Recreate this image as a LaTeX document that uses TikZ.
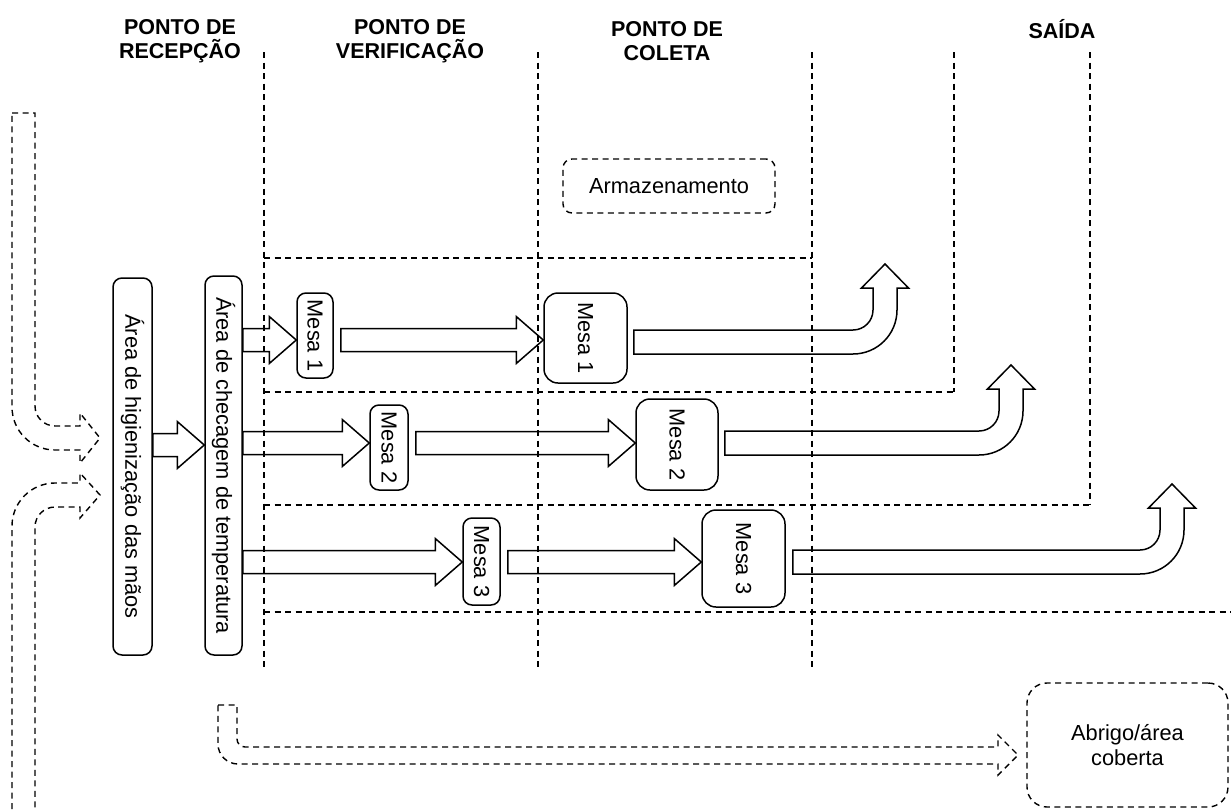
\documentclass[tikz,border=0pt]{standalone}
\usepackage{fontspec}
\setmainfont{Liberation Sans}
\usepackage{graphicx}
\usetikzlibrary{calc}
\newcommand{\setabloco}[2]{%
  \draw[bloco] let \p1=#1, \p2=#2 in
    (\x1,\y1+11.5pt) -- (\x2-27pt,\y1+11.5pt) -- (\x2-27pt,\y1+23.5pt) -- (\x2,\y1)
    -- (\x2-27pt,\y1-23.5pt) -- (\x2-27pt,\y1-11.5pt) -- (\x1,\y1-11.5pt) -- cycle;}
\newcommand{\setasaida}[2]{%
  \draw[bloco] let \p1=#1, \p2=#2 in
    (\x1,\y1+12pt) -- (\x2-32pt,\y1+12pt) arc[start angle=270,end angle=360,radius=20pt]
    -- (\x2-12pt,\y2-24pt) -- (\x2-23.5pt,\y2-24pt) -- (\x2,\y2) -- (\x2+23.5pt,\y2-24pt)
    -- (\x2+12pt,\y2-24pt) -- (\x2+12pt,\y1+32pt) arc[start angle=0,end angle=-90,radius=44pt]
    -- (\x1,\y1-12pt) -- cycle;}

\begin{document}
\begin{tikzpicture}[x=1pt,y=-1pt,line width=1.5pt,
  every node/.style={font=\fontsize{21.8}{24.5}\selectfont,align=center,inner sep=0pt},
  cabec/.style={font=\fontsize{21.5}{24.5}\selectfont\bfseries},
  caixa/.style 2 args={draw,rounded corners=9pt,minimum width=#1,minimum height=#2},
  tracejado/.style={line width=1.4pt,dash pattern=on 6pt off 4.5pt},
  bloco/.style={draw,line width=1.5pt,line join=miter}]
\useasboundingbox (0,0) rectangle (1231,809);
\node[cabec] (recep) at (180,41) {PONTO DE\\RECEPÇÃO};
\node[cabec] (verif) at (410,41) {PONTO DE\\VERIFICAÇÃO};
\node[cabec] (colet) at (667,41) {PONTO DE\\COLETA};
\node[cabec] (saida) at (1062,29) {SAÍDA};
\foreach \x/\yb in {264/670,538/670,812/670,954/392,1090/505}
  \draw[tracejado] (\x,52) -- (\x,\yb);
\foreach \y/\xe in {258/812,392/954,505/1090,612/1231}
  \draw[tracejado] (264,\y) -- (\xe,\y);
\node[caixa={39pt}{377pt}] (hig) at (132.5,466.5) {\rotatebox{-90}{Área de higienização das mãos}};
\node[caixa={37pt}{379pt}] (chk) at (223.5,465.5) {\rotatebox{-90}{Área de checagem de temperatura}};
\node[caixa={36pt}{85pt}] (v1) at (315,335.5) {\rotatebox{-90}{Mesa 1}};
\node[caixa={38pt}{85pt}] (v2) at (389,447.5) {\rotatebox{-90}{Mesa 2}};
\node[caixa={37pt}{87pt}] (v3) at (481.5,561.5) {\rotatebox{-90}{Mesa 3}};
\node[caixa={83pt}{90pt},rounded corners=14pt] (c1) at (585.5,338) {\rotatebox{-90}{Mesa 1}};
\node[caixa={82pt}{91pt},rounded corners=14pt] (c2) at (677,444.5) {\rotatebox{-90}{Mesa 2}};
\node[caixa={83pt}{97pt},rounded corners=14pt] (c3) at (743.5,558.5) {\rotatebox{-90}{Mesa 3}};
\node[caixa={212pt}{54pt},tracejado] (arm) at (669,186) {Armazenamento};
\node[caixa={201pt}{124pt},tracejado,rounded corners=20pt] (abr) at (1127.5,745) {Abrigo/área\\coberta};
\coordinate (e0) at (0,445);
\coordinate (r1) at (0,340);
\coordinate (r2) at (0,443);
\coordinate (r3) at (0,562);
\coordinate (s1) at (885,264);
\coordinate (s2) at (1011,365);
\coordinate (s3) at (1172,484);
\setabloco{(hig.east|-e0)}{(chk.west|-e0)}
\setabloco{(chk.east|-r1)}{(v1.west|-r1)}
\setabloco{(chk.east|-r2)}{(v2.west|-r2)}
\setabloco{(chk.east|-r3)}{(v3.west|-r3)}
\setabloco{($(v1.east|-r1)+(7,0)$)}{(c1.west|-r1)}
\setabloco{($(v2.east|-r2)+(7,0)$)}{(c2.west|-r2)}
\setabloco{($(v3.east|-r3)+(7,0)$)}{(c3.west|-r3)}
\setasaida{($(c1.east|-r1)+(6,2)$)}{(s1)}
\setasaida{($(c2.east|-r2)+(6,0)$)}{(s2)}
\setasaida{($(c3.east|-r3)+(7,0)$)}{(s3)}
\draw[tracejado] (12,113) -- (35,113) -- (35,406) arc[start angle=180,end angle=270,radius=20pt]
  -- (80,426) -- (80,413) -- (100,438) -- (80,463) -- (80,450) -- (55,450)
  arc[start angle=270,end angle=180,radius=43pt] -- cycle;
\draw[tracejado] (12,809) -- (12,526) arc[start angle=180,end angle=90,radius=43pt]
  -- (80,483) -- (80,473) -- (100,495) -- (80,518) -- (80,507) -- (55,507)
  arc[start angle=90,end angle=180,radius=20pt] -- (35,809);
\draw[tracejado] (218,705) -- (237,705) -- (237,739) arc[start angle=180,end angle=270,radius=8pt]
  -- (998,747) -- (998,735) -- (1018,755) -- (998,775) -- (998,764) -- (238,764)
  arc[start angle=270,end angle=180,radius=20pt] -- cycle;
\end{tikzpicture}
\end{document}
